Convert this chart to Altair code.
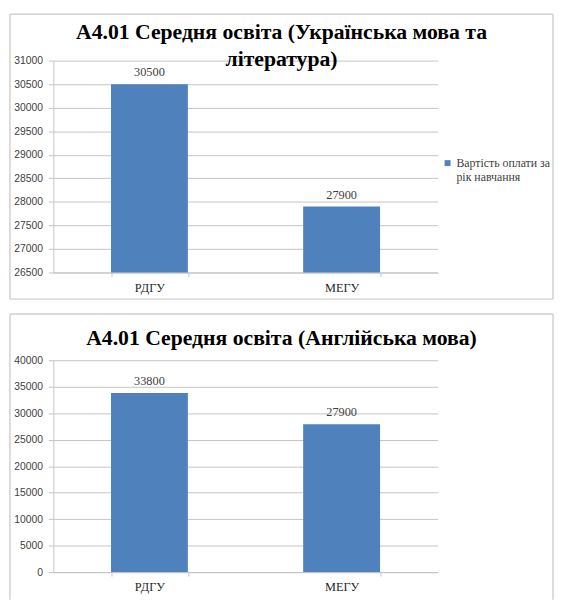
import json
import altair as alt
import pandas as pd

CATEGORIES = ["РДГУ", "МЕГУ"]
SERIES = "Вартість оплати за рік навчання"
LEGEND_LINES = ["Вартість оплати за", "рік навчання"]

UKR_TITLE = ["А4.01 Середня освіта (Українська мова та", "література)"]
UKR_VALUES = [30500, 27900]
UKR_TICKS = [26500, 27000, 27500, 28000, 28500, 29000, 29500, 30000, 30500, 31000]

ENG_TITLE = "А4.01 Середня освіта (Англійська мова)"
ENG_VALUES = [33800, 27900]
ENG_TICKS = [0, 5000, 10000, 15000, 20000, 25000, 30000, 35000, 40000]

BAR_COLOR = "#4f81bd"
GRID = "#c4c4c4"
FRAME = "#d0d0d0"
W, H = 390, 215


def panel(values, title, ticks, title_offset, frame_bottom):
    df = pd.DataFrame({"cat": CATEGORIES, "value": values, "series": [SERIES] * len(values)})
    base = alt.Chart(df)
    x = alt.X(
        "cat:N", sort=CATEGORIES, title=None,
        scale=alt.Scale(paddingInner=0.6, paddingOuter=0.3),
        axis=alt.Axis(labelAngle=0, labelFont="Liberation Serif", labelFontSize=12.5,
                      labelColor="#262626", tickBand="extent", domainColor=GRID,
                      tickColor=GRID, tickSize=4, labelPadding=5),
    )
    y = alt.Y(
        "value:Q", title=None,
        scale=alt.Scale(domain=[ticks[0], ticks[-1]], nice=False, zero=False),
        axis=alt.Axis(values=ticks, tickCount=len(ticks), format="d",
                      labelFont="Liberation Sans", labelFontSize=10.5,
                      labelColor="#404040", gridColor=GRID, domainColor=GRID,
                      tickColor=GRID, tickSize=5, labelPadding=6,
                      labelOverlap=False, labelFlush=False),
    )
    bars = base.mark_bar(clip=True).encode(
        x=x, y=y,
        color=alt.Color(
            "series:N", scale=alt.Scale(range=[BAR_COLOR]),
            legend=alt.Legend(
                title=None, orient="none", legendX=394, legendY=98,
                symbolType="square", symbolSize=36, symbolStrokeWidth=0,
                labelFont="Liberation Serif", labelFontSize=12, labelColor="#404040",
                labelExpr=json.dumps(LEGEND_LINES), labelOffset=3, labelLimit=200,
            ),
        ),
    )
    labels = base.mark_text(font="Liberation Serif", fontSize=12.5, color="#404040",
                            baseline="middle", dy=-12).encode(
        x=alt.X("cat:N", sort=CATEGORIES), y="value:Q", text=alt.Text("value:Q", format="d")
    )
    frame_df = pd.DataFrame({"k": [0]})
    left = alt.Chart(frame_df).mark_rule(color=FRAME, strokeWidth=1.5).encode(
        x=alt.value(-44), y=alt.value(-47), y2=alt.value(H + frame_bottom))
    right = alt.Chart(frame_df).mark_rule(color=FRAME, strokeWidth=1.5).encode(
        x=alt.value(W + 117), y=alt.value(-47), y2=alt.value(H + frame_bottom))
    topline = alt.Chart(frame_df).mark_rule(color=FRAME, strokeWidth=1.5).encode(
        x=alt.value(-44), x2=alt.value(W + 117), y=alt.value(-47))
    layers = [left, right, topline]
    if frame_bottom <= 27:
        layers.append(alt.Chart(frame_df).mark_rule(color=FRAME, strokeWidth=1.5).encode(
            x=alt.value(-44), x2=alt.value(W + 117), y=alt.value(H + frame_bottom)))
    return alt.layer(*layers, bars, labels).properties(
        width=W, height=H,
        title=alt.TitleParams(
            text=title, font="Liberation Serif", fontSize=22, fontWeight="bold",
            color="#000000", anchor="middle", frame="bounds", offset=title_offset,
            lineHeight=27,
        ),
    )


top = panel(UKR_VALUES, UKR_TITLE, UKR_TICKS, -58, 27)
bottom = panel(ENG_VALUES, ENG_TITLE, ENG_TICKS, -37, 28)

chart = alt.vconcat(top, bottom, spacing=11).properties(
    padding=0
).configure_view(stroke="transparent")

chart.save("out.html", embed_options={"renderer": "svg", "actions": False})
